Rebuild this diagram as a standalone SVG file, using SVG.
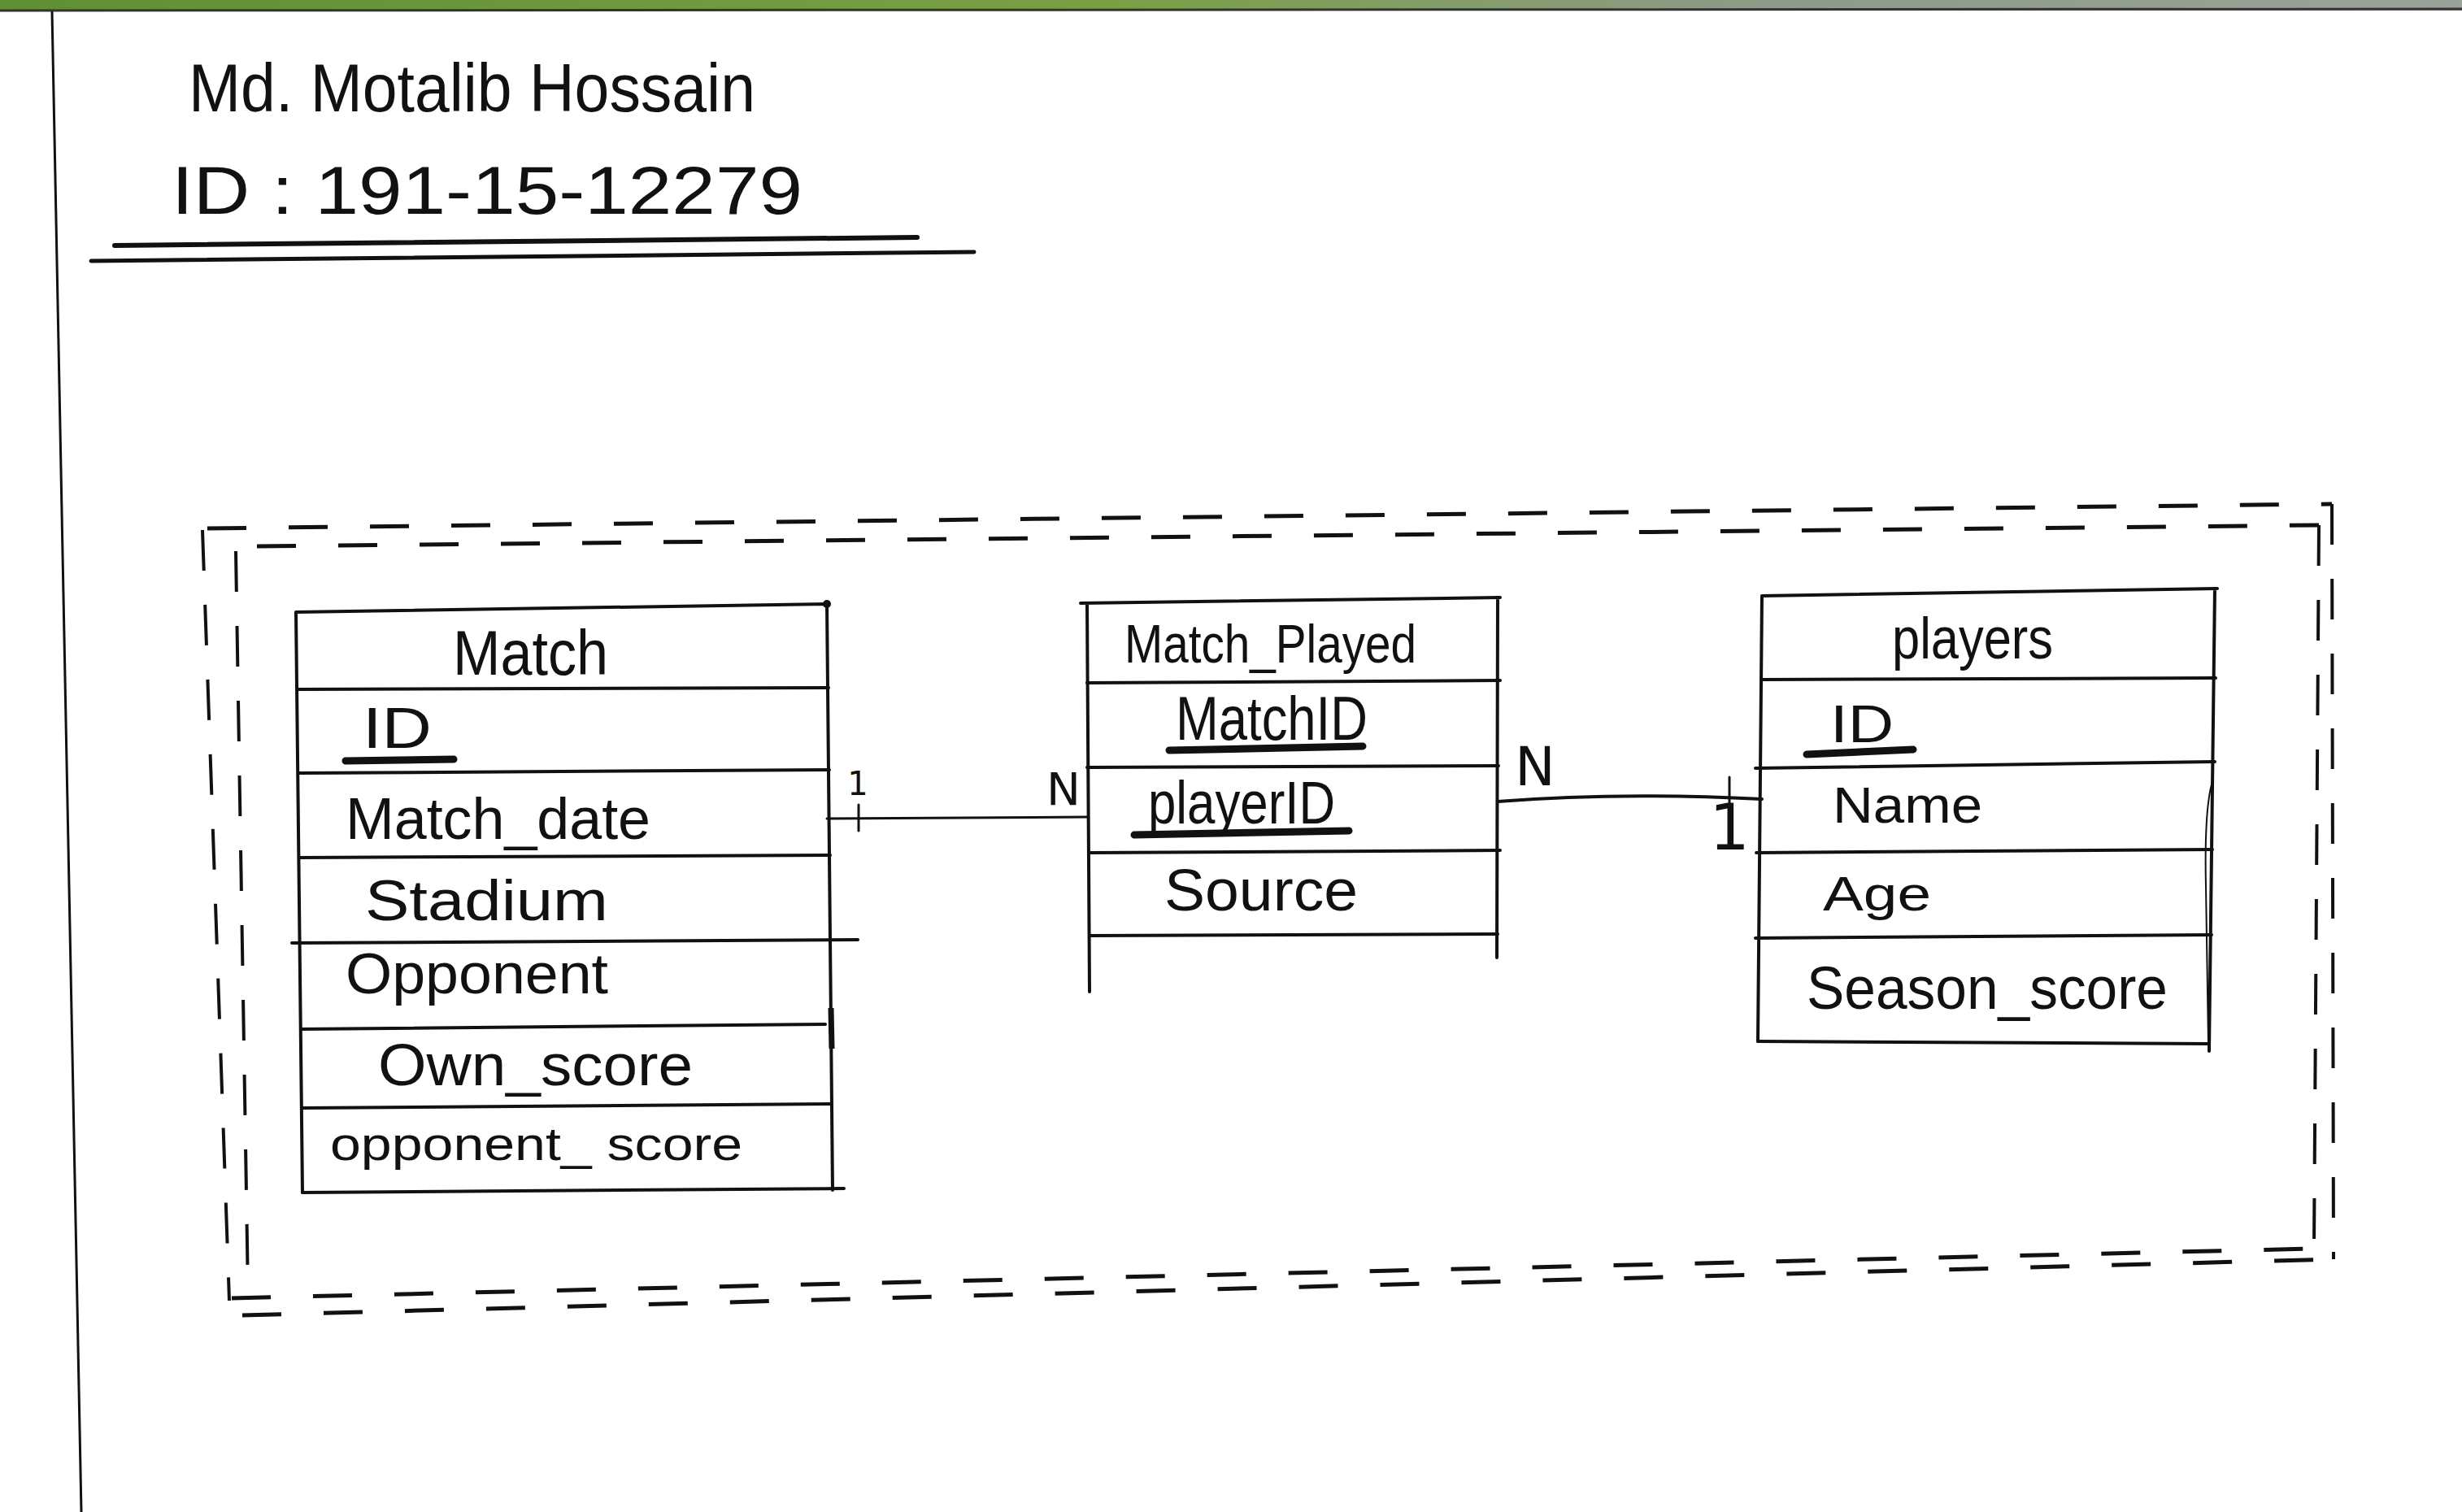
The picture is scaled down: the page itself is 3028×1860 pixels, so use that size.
<svg xmlns="http://www.w3.org/2000/svg" width="3028" height="1860" viewBox="0 0 3028 1860">
<defs>
<linearGradient id="grass" x1="0" y1="0" x2="1" y2="0">
<stop offset="0" stop-color="#5f8f35"/>
<stop offset="0.45" stop-color="#7aa044"/>
<stop offset="0.7" stop-color="#8c9a86"/>
<stop offset="1" stop-color="#9aa39a"/>
</linearGradient>
<style>
.ln{stroke:#111;stroke-width:4;fill:none;stroke-linecap:round;stroke-linejoin:round}
.thin{stroke:#111;stroke-width:2;fill:none}
.ul{stroke:#111;stroke-width:9;fill:none;stroke-linecap:round}
.dh{stroke:#111;stroke-width:5;fill:none;stroke-dasharray:48 52}
.dv{stroke:#111;stroke-width:4;fill:none;stroke-dasharray:50 42}
.t{font-family:"Liberation Sans",Arial,sans-serif;fill:#111}
.lbl{font-family:"DejaVu Sans","Liberation Sans",sans-serif;fill:#111}
</style>
</defs>
<rect width="3028" height="1860" fill="#ffffff"/>
<rect x="0" y="0" width="3028" height="13" fill="url(#grass)"/>
<line x1="0" y1="13" x2="3028" y2="11" stroke="#333" stroke-width="3"/>
<line x1="64" y1="14" x2="100" y2="1860" stroke="#111" stroke-width="3"/>

<g id="header">
<text class="t" x="232" y="137" font-size="84" textLength="697" lengthAdjust="spacingAndGlyphs">Md. Motalib Hossain</text>
<text class="t" x="211" y="263" font-size="84" textLength="776" lengthAdjust="spacingAndGlyphs">ID : 191-15-12279</text>
<line x1="141" y1="302" x2="1128" y2="292" stroke="#111" stroke-width="6" stroke-linecap="round"/>
<line x1="112" y1="321" x2="1198" y2="310" stroke="#111" stroke-width="5" stroke-linecap="round"/>
</g>

<g id="frame">
<path class="dh" d="M255 650 L2868 620"/>
<path class="dh" d="M316 672 L2852 646"/>
<path class="dh" d="M285 1597 L2846 1536"/>
<path class="dh" d="M298 1618 L2870 1549"/>
<path class="dv" d="M249 652 L282 1600"/>
<path class="dv" d="M290 678 L305 1590"/>
<path class="dv" d="M2868 620 L2870 1549"/>
<path class="dv" d="M2852 646 L2846 1536"/>
</g>

<g id="match">
<path class="ln" d="M364 753 L1017 743 M364 753 L372 1467 M1017 743 L1024 1464"/>
<circle cx="1017" cy="743" r="5" fill="#111"/>
<path class="ln" d="M366 848 L1019 846 M368 951 L1020 947 M368 1055 L1021 1052 M359 1160 L1055 1156 M370 1266 L1015 1260 M372 1363 L1022 1358 M372 1467 L1038 1462"/>
<line x1="1022" y1="1240" x2="1023" y2="1290" stroke="#111" stroke-width="7"/>
<text class="t" x="557" y="830" font-size="78" textLength="191" lengthAdjust="spacingAndGlyphs">Match</text>
<text class="t" x="446" y="920" font-size="70" textLength="85" lengthAdjust="spacingAndGlyphs">ID</text>
<line class="ul" x1="425" y1="936" x2="558" y2="934"/>
<text class="t" x="425" y="1032" font-size="72" textLength="375" lengthAdjust="spacingAndGlyphs">Match_date</text>
<text class="t" x="449" y="1132" font-size="70" textLength="299" lengthAdjust="spacingAndGlyphs">Stadium</text>
<text class="t" x="425" y="1222" font-size="70" textLength="323" lengthAdjust="spacingAndGlyphs">Opponent</text>
<text class="t" x="465" y="1335" font-size="72" textLength="387" lengthAdjust="spacingAndGlyphs">Own_score</text>
<text class="t" x="406" y="1427" font-size="58" textLength="507" lengthAdjust="spacingAndGlyphs">opponent_ score</text>
</g>

<g id="match_played">
<path class="ln" d="M1329 742 L1845 735 M1337 742 L1340 1220 M1842 735 L1841 1178"/>
<path class="ln" d="M1337 840 L1845 837 M1337 944 L1843 942 M1340 1049 L1845 1046 M1340 1151 L1842 1149"/>
<text class="t" x="1383" y="815" font-size="66" textLength="359" lengthAdjust="spacingAndGlyphs">Match_Played</text>
<text class="t" x="1446" y="910" font-size="76" textLength="236" lengthAdjust="spacingAndGlyphs">MatchID</text>
<line class="ul" x1="1438" y1="923" x2="1676" y2="918"/>
<text class="t" x="1412" y="1013" font-size="74" textLength="230" lengthAdjust="spacingAndGlyphs">playerID</text>
<line class="ul" x1="1395" y1="1027" x2="1659" y2="1022"/>
<text class="t" x="1432" y="1120" font-size="72" textLength="238" lengthAdjust="spacingAndGlyphs">Source</text>
</g>

<g id="players">
<path class="ln" d="M2167 733 L2727 724 M2167 733 L2162 1281 M2724 724 L2717 1293"/>
<path class="ln" d="M2167 836 L2725 834 M2159 945 L2724 937 M2160 1049 L2721 1045 M2159 1154 L2720 1150 M2162 1281 L2717 1284"/>
<path class="thin" d="M2720 965 Q2711 1000 2713 1090 L2716 1282"/>
<text class="t" x="2327" y="810" font-size="72" textLength="198" lengthAdjust="spacingAndGlyphs">players</text>
<text class="t" x="2251" y="913" font-size="64" textLength="78" lengthAdjust="spacingAndGlyphs">ID</text>
<line class="ul" x1="2222" y1="928" x2="2353" y2="922"/>
<text class="t" x="2254" y="1012" font-size="63" textLength="184" lengthAdjust="spacingAndGlyphs">Name</text>
<text class="t" x="2242" y="1120" font-size="60" textLength="133" lengthAdjust="spacingAndGlyphs">Age</text>
<text class="t" x="2222" y="1241" font-size="75" textLength="444" lengthAdjust="spacingAndGlyphs">Season_score</text>
</g>

<g id="connectors">
<path class="ln" style="stroke-width:3" d="M1017 1007 L1338 1005"/>
<path class="ln" style="stroke-width:3" d="M1056 990 L1056 1022"/>
<path class="ln" d="M1842 986 Q1990 974 2167 983"/>
<path class="ln" style="stroke-width:3" d="M2127 956 L2127 1000"/>
<text class="lbl" x="1055" y="978" font-size="40" text-anchor="middle">1</text>
<text class="lbl" x="1308" y="990" font-size="56" text-anchor="middle">N</text>
<text class="lbl" x="1888" y="966" font-size="66" text-anchor="middle">N</text>
<text class="lbl" x="2127" y="1045" font-size="78" text-anchor="middle">1</text>
</g>
</svg>
